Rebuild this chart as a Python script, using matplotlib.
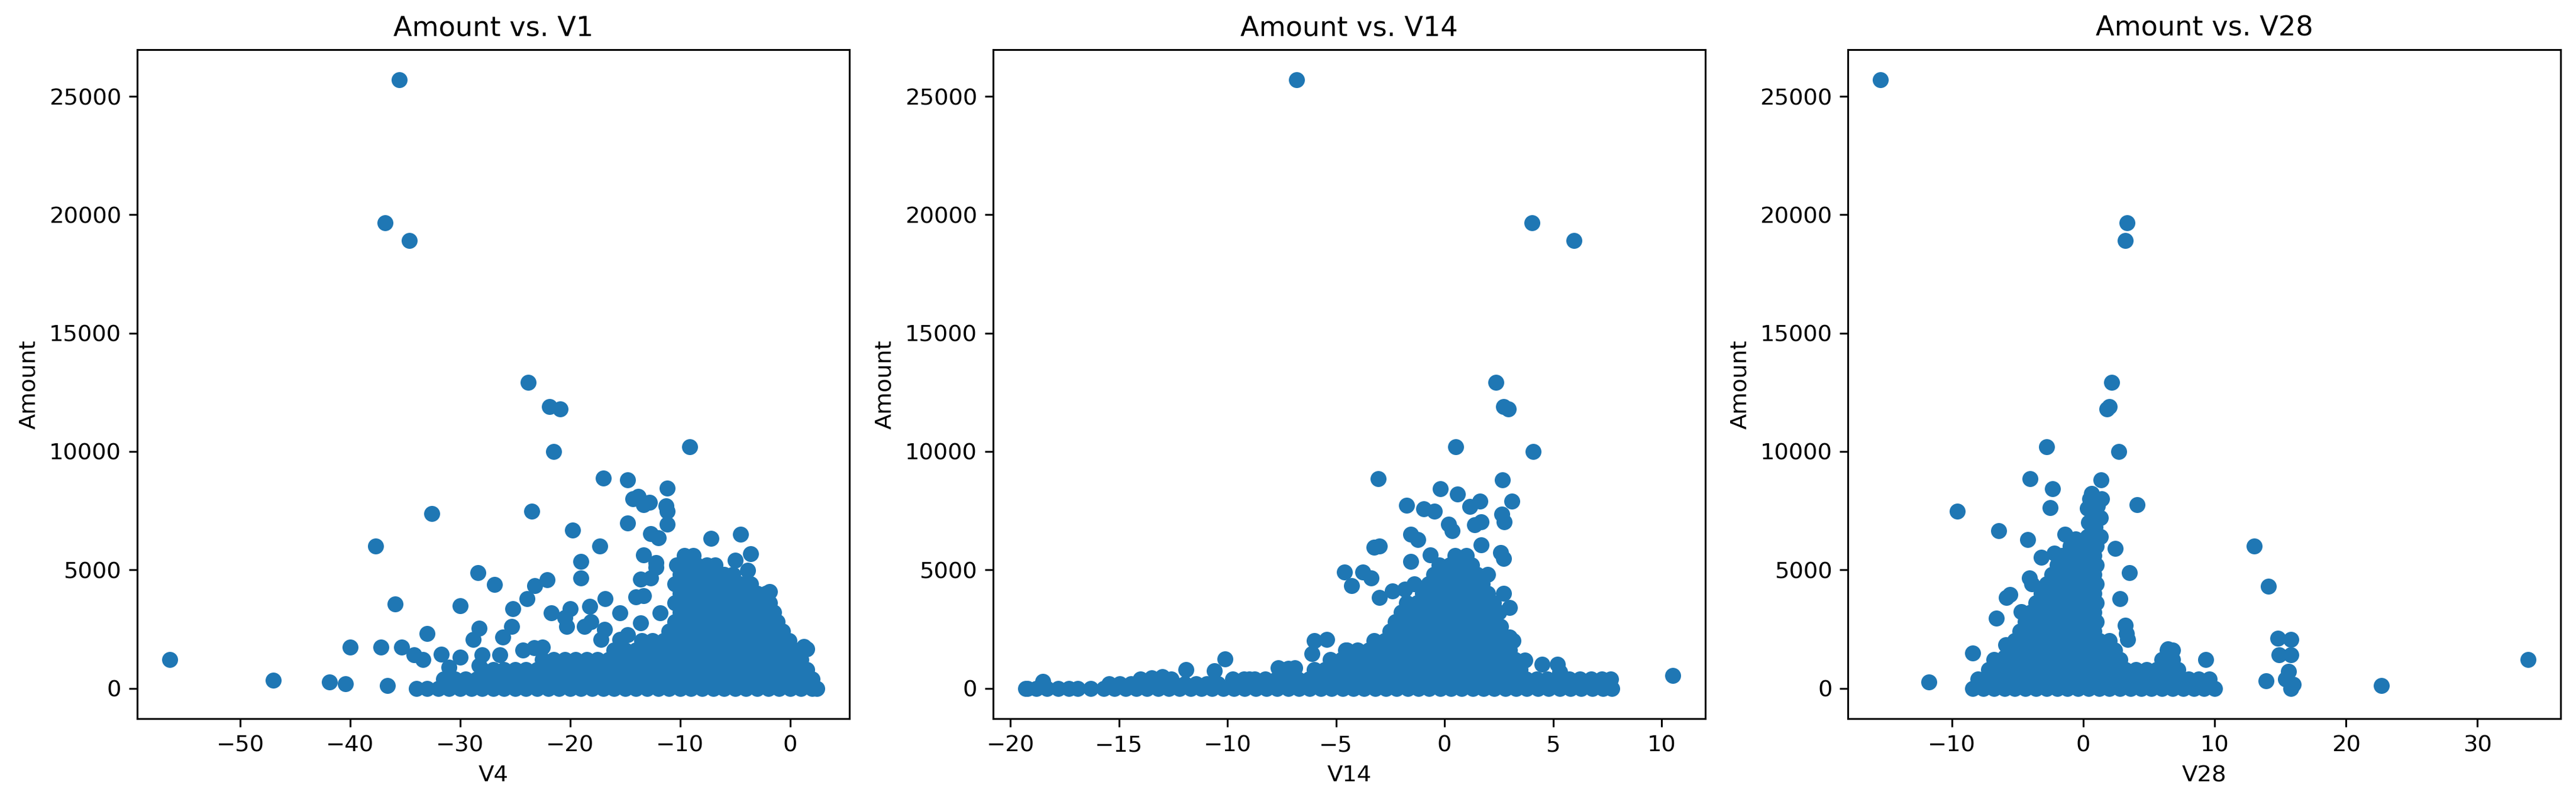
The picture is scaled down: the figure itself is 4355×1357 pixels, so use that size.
import matplotlib
matplotlib.use("Agg")
import matplotlib.pyplot as plt
import numpy as np

# ---------------- data ----------------
titles = ["Amount vs. V1", "Amount vs. V14", "Amount vs. V28"]
xlabels = ["V4", "V14", "V28"]
ylabel = "Amount"

# Panel 1: isolated points (x, Amount)
p1_x = [-35.55, -36.85, -34.6, -56.41, -47.0, -41.9, -40.4, -40.0, -37.2, -37.7,
        -35.9, -36.6, -35.3, -33.0, -32.6, -23.8, -21.9, -20.9, -21.5, -9.15,
        -23.5, -17.0, -14.8, -11.2, -19.8, -17.3, -28.4, -26.9, -30.0, -25.2,
        -23.9, -23.2, -22.1, -21.7, -19.0, -19.0, -16.8, -18.2, -20.0, -20.5,
        -14.8, -14.3, -13.8, -13.3, -12.8, -11.2, -11.3, -11.2, -12.7, -12.0,
        -13.3, -12.2, -13.6, -12.7, -12.2, -14.0, -13.3, -15.5, -13.6, -11.8,
        -14.8, -7.2, -4.5, -3.6, -5.0, -3.85, -1.85, 1.26, 1.5, -34.2,
        -33.4, -31.7, -31.0, -30.0, -28.3, -28.8, -28.0, -28.3, -26.1, -25.3,
        -26.4, -24.3, -23.3, -22.5, -20.3, -18.7, -18.1, -17.2, -16.9, -15.5]
p1_amt = [25691, 19656, 18910, 1200, 350, 260, 200, 1730, 1730, 6000,
          3570, 110, 1730, 2320, 7380, 12910, 11898, 11789, 10000, 10199,
          7470, 8870, 8810, 8440, 6670, 6000, 4870, 4390, 3490, 3360,
          3790, 4330, 4590, 3180, 5350, 4650, 3790, 3460, 3360, 2990,
          6970, 8000, 8100, 7750, 7850, 7470, 7700, 6930, 6540, 6350,
          5630, 5300, 4610, 4650, 5100, 3870, 3900, 3180, 2750, 3180,
          2270, 6320, 6494, 5693, 5411, 4978, 4080, 1750, 1650, 1400,
          1200, 1430, 900, 1300, 2530, 2060, 1400, 970, 2160, 2600,
          1400, 1620, 1700, 1730, 2600, 2600, 2810, 2060, 2490, 2060]

# Panel 1: dense region, rows of points (Amount level -> x values)
p1_rows = [
    (0, [-34, -33, -32, -31, -30, -29, -28, -27, -26, -25, -24, -23, -22, -21, -20,
         -19, -18, -17, -16, -15, -14, -13, -12, -11, -10, -9, -8, -7, -6, -5, -4,
         -3, -2, -1, 0, 1, 2, 2.45]),
    (400, [-31.5, -30.5, -29.5, -28.5, -27.5, -26.5, -25.5, -24.5, -23.5, -22.5, -21.5,
           -20.5, -19.5, -18.5, -17.5, -16.5, -15.5, -14.5, -13.5, -12.5, -11.5, -10.5,
           -9.5, -8.5, -7.5, -6.5, -5.5, -4.5, -3.5, -2.5, -1.5, -0.5, 0.5, 1.5, 2.0]),
    (800, [-28, -27, -26, -25, -24, -23, -22, -21, -20, -19, -18, -17, -16, -15, -14,
           -13, -12, -11, -10, -9, -8, -7, -6, -5, -4, -3, -2, -1, 0, 1, 1.5]),
    (1200, [-22.5, -21.5, -20.5, -19.5, -18.5, -17.5, -16.5, -15.5, -14.5, -13.5, -12.5,
            -11.5, -10.5, -9.5, -8.5, -7.5, -6.5, -5.5, -4.5, -3.5, -2.5, -1.5, -0.5,
            0.5, 1.0]),
    (1600, [-16, -15, -14, -13, -12, -11, -10, -9, -8, -7, -6, -5, -4, -3, -2, -1, 0, 0.4]),
    (2000, [-13.5, -12.5, -11.5, -10.5, -9.5, -8.5, -7.5, -6.5, -5.5, -4.5, -3.5, -2.5,
            -1.5, -0.5, -0.1]),
    (2400, [-11, -10, -9, -8, -7, -6, -5, -4, -3, -2, -1, -0.7]),
    (2800, [-10.5, -9.5, -8.5, -7.5, -6.5, -5.5, -4.5, -3.5, -2.5, -1.5, -1.2]),
    (3200, [-10, -9, -8, -7, -6, -5, -4, -3, -2, -1.5]),
    (3600, [-10.5, -9.5, -8.5, -7.5, -6.5, -5.5, -4.5, -3.5, -2.5, -1.9]),
    (4000, [-10, -9, -8, -7, -6, -5, -4, -3, -2.2]),
    (4400, [-10.5, -9.5, -8.5, -7.5, -6.5, -5.5, -4.5, -3.6]),
    (4800, [-10, -9, -8, -7, -6, -5.2]),
    (5200, [-10.3, -9.4, -8.5, -7.6, -6.8]),
    (5600, [-9.6, -8.8]),
]

# Panel 2: isolated points
p2_x = [-6.8, 4.03, 5.97, 2.36, 2.73, 2.94, 4.1, 0.52, -3.06, 2.68,
        -0.18, 0.6, 3.1, -1.74, -0.96, -0.47, 1.17, 1.64, 2.65, 2.75,
        0.18, 0.34, 1.7, 1.4, -1.56, -1.22, -3.25, -3.0, 1.69, 2.6,
        2.73, -4.6, -3.77, -3.38, -4.29, -0.65, -1.56, -3.0, -2.39, -1.82,
        -1.4, 2.99, 2.73, 3.17, 3.0, -5.43, -6.0, -6.1, -10.1, -11.9,
        -10.6, 3.7, 4.5, 5.2, 5.3, 10.53, 7.66, -7.66, -6.9, -7.2,
        -4.55, -18.5, -16.3, -14.0, -13.5, -13.0, -12.6, -9.0, -8.5, 6.5,
        7.5, 2.6, 2.2, -19.21]
p2_amt = [25691, 19656, 18910, 12910, 11898, 11789, 10000, 10199, 8850, 8810,
          8420, 8200, 7900, 7730, 7580, 7470, 7680, 7900, 7360, 7035,
          6930, 6645, 7035, 6900, 6494, 6277, 5950, 6000, 6060, 5736,
          5476, 4913, 4913, 4654, 4329, 5628, 5346, 3831, 4113, 4177,
          4400, 3398, 4004, 2013, 2150, 2056, 2000, 1450, 1234, 800,
          750, 1190, 1017, 1000, 700, 540, 400, 866, 866, 850,
          1623, 300, 0, 400, 450, 500, 400, 400, 300, 300,
          300, 2600, 2900, 0]

p2_rows = [
    (0, [-19.3, -18.8, -18.3, -17.8, -17.3, -16.9, -15.7, -15.2, -14.7, -14.2, -13.7,
         -13.2, -12.7, -12.2, -11.7, -11.2, -10.7, -10.2, -9.7, -9.2, -8.7, -8.2, -7.7,
         -7.2, -6.7, -6.2, -5.7, -5.2, -4.7, -4.2, -3.7, -3.2, -2.7, -2.2, -1.7, -1.2,
         -0.7, -0.2, 0.3, 0.8, 1.3, 1.8, 2.3, 2.8, 3.3, 3.8, 4.3, 4.8, 5.3, 5.8, 6.3,
         6.8, 7.3, 7.7]),
    (200, [-15.45, -14.95, -14.45, -13.95, -13.45, -12.95, -12.45, -11.95, -11.45,
           -10.95, -10.45]),
    (400, [-9.75, -9.25, -8.75, -8.25, -7.75, -7.25, -6.75, -6.25, -5.75, -5.25, -4.75,
           -4.25, -3.75, -3.25, -2.75, -2.25, -1.75, -1.25, -0.75, -0.25, 0.25, 0.75,
           1.25, 1.75, 2.25, 2.75, 3.25, 3.75, 4.25, 4.75, 5.25, 5.75, 6.25, 6.75, 7.25]),
    (800, [-7.5, -7.0, -6.0, -5.5, -5.0, -4.5, -4.0, -3.5, -3.0, -2.5, -2.0, -1.5, -1.0,
           -0.5, 0.0, 0.5, 1.0, 1.5, 2.0, 2.5, 3.0, 3.5]),
    (1200, [-5.25, -4.75, -4.25, -3.75, -3.25, -2.75, -2.25, -1.75, -1.25, -0.75, -0.25,
            0.25, 0.75, 1.25, 1.75, 2.25, 2.75, 3.25]),
    (1600, [-4.5, -4.0, -3.5, -3.0, -2.5, -2.0, -1.5, -1.0, -0.5, 0.0, 0.5, 1.0, 1.5,
            2.0, 2.5, 3.0]),
    (2000, [-3.25, -2.75, -2.25, -1.75, -1.25, -0.75, -0.25, 0.25, 0.75, 1.25, 1.75,
            2.25, 2.75]),
    (2400, [-2.5, -2.0, -1.5, -1.0, -0.5, 0.0, 0.5, 1.0, 1.5, 2.0, 2.5]),
    (2800, [-2.25, -1.75, -1.25, -0.75, -0.25, 0.25, 0.75, 1.25, 1.75, 2.25]),
    (3200, [-2.0, -1.5, -1.0, -0.5, 0.0, 0.5, 1.0, 1.5, 2.0, 2.5]),
    (3600, [-1.75, -1.25, -0.75, -0.25, 0.25, 0.75, 1.25, 1.75, 2.25]),
    (4000, [-1.0, -0.5, 0.0, 0.5, 1.0, 1.5, 2.0]),
    (4400, [-0.75, -0.25, 0.25, 0.75, 1.25, 1.75]),
    (4800, [-0.5, 0.0, 0.5, 1.0, 1.5, 2.0]),
    (5200, [-0.25, 0.25, 0.75, 1.25]),
    (5600, [0.5, 1.0]),
]

# Panel 3: isolated points
p3_x = [-15.43, 3.33, 3.2, 2.16, 2.0, 1.82, -2.77, 2.68, -4.07, 1.34,
        -2.34, -9.6, -2.5, 4.1, 0.65, 0.9, 1.1, 0.7, 0.5, 0.9,
        -6.45, -4.24, -1.39, 2.42, 13.0, 14.07, 3.5, -3.2, -2.2, -4.1,
        -3.9, -5.84, -5.6, -4.72, -6.62, 2.81, 3.2, 3.38, 3.3, 14.8,
        15.8, 14.9, 15.8, 15.6, 15.4, 13.9, 16.0, 15.8, 22.7, 33.85,
        9.3, -8.44, -11.73, -5.9, 6.45, 6.8, -6.0, 0.3, 1.3, 0.4,
        1.3, 0.3, 1.4, 0.5, -0.6, -1.0]
p3_amt = [25691, 19656, 18910, 12910, 11898, 11789, 10199, 10000, 8850, 8810,
          8420, 7470, 7620, 7750, 8225, 8000, 7700, 7400, 7000, 6800,
          6645, 6277, 6515, 5909, 5996, 4307, 4892, 5519, 5700, 4654,
          4400, 3831, 3950, 3225, 2965, 3788, 2662, 2056, 2300, 2100,
          2050, 1400, 1400, 714, 400, 325, 173, 0, 108, 1212,
          1212, 1493, 260, 1840, 1667, 1600, 1300, 6400, 6400, 7000,
          7200, 7600, 8000, 8000, 6300, 6000]

p3_rows = [
    (0, [-8.4, -7.6, -6.8, -6.0, -5.2, -4.4, -3.6, -2.8, -2.0, -1.2, -0.4, 0.4, 1.2,
         2.0, 2.8, 3.6, 4.4, 5.2, 6.0, 6.8, 7.6, 8.4, 9.2, 10.0]),
    (400, [-8.0, -7.2, -6.4, -5.6, -4.8, -4.0, -3.2, -2.4, -1.6, -0.8, 0.0, 0.8, 1.6,
           2.4, 3.2, 4.0, 4.8, 5.6, 6.4, 7.2, 8.0, 8.8, 9.6]),
    (800, [-7.2, -6.4, -5.6, -4.8, -4.0, -3.2, -2.4, -1.6, -0.8, 0.0, 0.8, 1.6, 2.4,
           3.2, 4.0, 4.8, 5.6, 6.4, 7.2]),
    (1200, [-6.8, -6.0, -5.2, -4.4, -3.6, -2.8, -2.0, -1.2, -0.4, 0.4, 1.2, 2.0, 2.8,
            6.0, 6.8]),
    (1600, [-5.6, -4.8, -4.0, -3.2, -2.4, -1.6, -0.8, 0.0, 0.8, 1.6, 2.4, 6.4]),
    (2000, [-5.2, -4.4, -3.6, -2.8, -2.0, -1.2, -0.4, 0.4, 1.2, 2.0]),
    (2400, [-4.8, -4.0, -3.2, -2.4, -1.6, -0.8, 0.0, 0.8]),
    (2800, [-4.4, -3.6, -2.8, -2.0, -1.2, -0.4, 0.4, 1.0]),
    (3200, [-4.0, -3.2, -2.4, -1.6, -0.8, 0.0, 0.8]),
    (3600, [-3.6, -2.8, -2.0, -1.2, -0.4, 0.4, 1.0]),
    (4000, [-3.2, -2.4, -1.6, -0.8, 0.0, 0.8]),
    (4400, [-2.8, -2.0, -1.2, -0.4, 0.4, 1.0]),
    (4800, [-2.4, -1.6, -0.8, 0.0, 0.8]),
    (5200, [-2.0, -1.2, -0.4, 0.4, 1.0]),
    (5600, [-1.6, -0.8, 0.0, 0.8]),
    (6000, [-0.4, 0.4, 1.0]),
]


def gather(px, pamt, rows):
    xs = list(px)
    ys = list(pamt)
    for amt, row in rows:
        xs.extend(row)
        ys.extend([amt] * len(row))
    return np.array(xs, dtype=float), np.array(ys, dtype=float)


panels = [gather(p1_x, p1_amt, p1_rows),
          gather(p2_x, p2_amt, p2_rows),
          gather(p3_x, p3_amt, p3_rows)]

# ---------------- figure ----------------
W, H = 4355, 1357
DPI = 277.74
fig = plt.figure(figsize=(W / DPI, H / DPI), dpi=DPI)
lefts = [0.05327, 0.38554, 0.71745]
axes = [fig.add_axes([l, 0.1039, 0.2765, 0.8342]) for l in lefts]

for ax, (x, y), t, xl in zip(axes, panels, titles, xlabels):
    ax.scatter(x, y, color="#1f77b4")
    ax.set_title(t)
    ax.set_xlabel(xl)
    ax.set_ylabel(ylabel)

fig.savefig("out.png", dpi=DPI)
